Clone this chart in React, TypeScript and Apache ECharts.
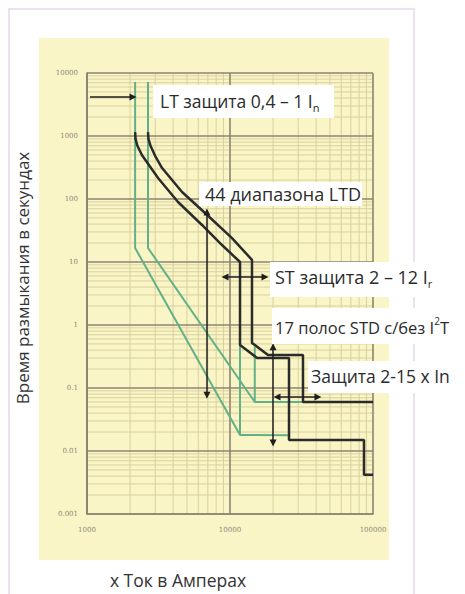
import React, { useEffect, useRef } from 'react';
import * as echarts from 'echarts';

// Axis ticks
const xTickLabels = ['1000', '10000', '100000'];
const yTickLabels = ['0.001', '0.01', '0.1', '1', '10', '100', '1000', '10000'];
const xDecades = [1000, 10000];
const yDecades = [0.001, 0.01, 0.1, 1, 10, 100, 1000];
const minorMultipliers = [2, 3, 4, 5, 6, 7, 8, 9];

// Curves [current A, time s]
const greenLeft = [[2170, 7200], [2170, 16.7], [11750, 0.0179], [25860, 0.0178]];
const greenRight = [[2670, 7200], [2670, 16.7], [14900, 0.06], [36240, 0.06]];
const greenStep1 = [[11750, 0.48], [11750, 0.0179]];
const greenStep2 = [[14900, 0.45], [14900, 0.06]];
const blackLeft = [
  [2170, 1150], [2185, 900], [2250, 700], [2420, 499], [3140, 215], [4330, 89.6], [6370, 38.7],
  [8790, 18.6], [11750, 10], [11750, 0.48], [15450, 0.3], [25860, 0.3], [25860, 0.015],
  [86500, 0.015], [86500, 0.0042], [100000, 0.0042],
];
const blackRight = [
  [2670, 1150], [2690, 900], [2780, 700], [3000, 480], [3350, 310], [4620, 129], [6690, 60], [10330, 24],
  [14250, 10.8], [14250, 0.52], [18440, 0.334], [32390, 0.334], [32390, 0.06], [100000, 0.06],
];

// Annotation arrows
const ltArrow = [[1049, 4160], [2098, 4160]];
const ltdArrow = [[6900, 62], [6900, 0.077]];
const stArrow = [[9230, 5.78], [17570, 5.78]];
const stdArrow = [[20000, 0.45], [20000, 0.0134]];
const instArrow = [[21320, 0.072], [41220, 0.072]];
const strayDot = [[100000, 0.04]];

const GREEN = '#62b088';
const BLACK = '#2b2b2b';
const FONT = 'Open Sans';

function lineSeries(data: number[][], color: string, width: number) {
  return {
    type: 'line',
    data,
    showSymbol: false,
    symbol: 'none',
    lineStyle: { color, width },
    z: 3,
    silent: true,
  };
}

function labelText(x: number, y: number, text: string, size: number) {
  const small = Math.round(size * 0.62);
  return {
    type: 'text',
    x,
    y,
    z: 101,
    style: {
      text,
      fill: '#2b2b2b',
      fontSize: size,
      fontFamily: FONT,
      lineHeight: size + 6,
      verticalAlign: 'middle',
      align: 'left',
      rich: {
        sub: { fontSize: small, lineHeight: small, verticalAlign: 'bottom', fontFamily: FONT, fill: '#2b2b2b' },
        sup: { fontSize: small, lineHeight: small, verticalAlign: 'top', fontFamily: FONT, fill: '#2b2b2b' },
        n: { fontSize: size, lineHeight: size + 6, fontFamily: FONT, fill: '#2b2b2b' },
      },
    },
  };
}

function box(x: number, y: number, w: number, h: number) {
  return { type: 'rect', z: 100, shape: { x, y, width: w, height: h }, style: { fill: '#ffffff' } };
}

export default function App() {
  const ref = useRef<HTMLDivElement>(null);
  useEffect(() => {
    if (!ref.current) return;
    const chart = echarts.init(ref.current, undefined, { renderer: 'svg' });

    const vMinor: number[][] = [];
    xDecades.forEach((d) => minorMultipliers.forEach((m) => vMinor.push([d * m, 1])));
    const hMinor: number[][] = [];
    yDecades.forEach((d) => minorMultipliers.forEach((m) => hMinor.push([10000, d * m])));

    const idx = (v: number) => Math.round(Math.log10(v));

    chart.setOption({
      animation: false,
      grid: { left: 87, top: 73, width: 286, height: 441, containLabel: false },
      xAxis: {
        type: 'log',
        logBase: 10,
        min: 1000,
        max: 100000,
        axisLine: { show: true, lineStyle: { color: '#8c8572', width: 1.6 } },
        axisTick: { show: false },
        splitLine: { show: true, lineStyle: { color: '#8c8572', width: 1.6 } },
        axisLabel: {
          margin: 12,
          fontSize: 7,
          color: '#8a877a',
          fontFamily: 'DejaVu Serif',
          formatter: (v: number) => xTickLabels[idx(v) - 3] ?? '',
        },
      },
      yAxis: {
        type: 'log',
        logBase: 10,
        min: 0.001,
        max: 10000,
        axisLine: { show: true, lineStyle: { color: '#8c8572', width: 1.6 } },
        axisTick: { show: false },
        splitLine: { show: true, lineStyle: { color: '#8c8572', width: 1.6 } },
        axisLabel: {
          margin: 9,
          fontSize: 7,
          color: '#8a877a',
          fontFamily: 'DejaVu Serif',
          formatter: (v: number) => yTickLabels[idx(v) + 3] ?? '',
        },
      },
      graphic: [
        { type: 'rect', z: -101, shape: { x: 9, y: 9, width: 405, height: 610 }, style: { fill: '#ffffff', stroke: '#ece1f0', lineWidth: 2 } },
        { type: 'rect', z: -100, shape: { x: 39, y: 38, width: 350, height: 522 }, style: { fill: '#faf5c6' } },
        box(153, 85, 181, 33),
        labelText(160, 101, 'LT защита 0,4 – 1 I{sub|n}', 17.5),
        box(199, 182, 163, 24),
        labelText(205, 194, '44 диапазона LTD', 18),
        box(270, 262, 195, 35),
        labelText(275, 277, 'ST защита 2 – 12 I{sub|r}', 18),
        box(272, 308, 193, 36),
        labelText(275, 327, '17 полос STD с/без I{sup|2}{n|T}', 16.5),
        box(308, 361, 157, 32),
        labelText(311, 376, 'Защита 2-15 x In', 17.5),
        {
          type: 'text', x: 22, y: 278, rotation: Math.PI / 2, z: 101,
          style: { text: 'Время размыкания в секундах', fill: '#333', fontSize: 17, fontFamily: FONT, align: 'center', verticalAlign: 'middle' },
        },
        {
          type: 'text', x: 178, y: 580, z: 101,
          style: { text: 'x Ток в Амперах', fill: '#333', fontSize: 17.5, fontFamily: FONT, align: 'center', verticalAlign: 'middle' },
        },
      ],
      series: [
        {
          type: 'custom',
          z: -1,
          silent: true,
          data: vMinor,
          renderItem: (_p: any, api: any) => {
            const v = api.value(0);
            const a = api.coord([v, 10000]);
            const b = api.coord([v, 0.001]);
            return { type: 'line', shape: { x1: a[0], y1: a[1], x2: b[0], y2: b[1] }, style: { stroke: '#d9d09c', lineWidth: 1 } };
          },
        },
        {
          type: 'custom',
          z: -1,
          silent: true,
          data: hMinor,
          renderItem: (_p: any, api: any) => {
            const v = api.value(1);
            const a = api.coord([1000, v]);
            const b = api.coord([100000, v]);
            return { type: 'line', shape: { x1: a[0], y1: a[1], x2: b[0], y2: b[1] }, style: { stroke: '#d9d09c', lineWidth: 1 } };
          },
        },
        lineSeries(greenLeft, GREEN, 2),
        lineSeries(greenRight, GREEN, 2),
        lineSeries(greenStep1, GREEN, 2),
        lineSeries(greenStep2, GREEN, 2),
        lineSeries(blackLeft, BLACK, 2.5),
        lineSeries(blackRight, BLACK, 2.5),
        {
          type: 'lines',
          coordinateSystem: 'cartesian2d',
          z: 4,
          silent: true,
          symbol: ['none', 'triangle'],
          symbolSize: 7,
          lineStyle: { color: '#1e1e1e', width: 1.5, opacity: 1, curveness: 0 },
          data: [{ coords: ltArrow }],
        },
        {
          type: 'lines',
          coordinateSystem: 'cartesian2d',
          z: 4,
          silent: true,
          symbol: ['triangle', 'triangle'],
          symbolSize: 7,
          lineStyle: { color: '#1e1e1e', width: 1.5, opacity: 1, curveness: 0 },
          data: [{ coords: ltdArrow }, { coords: stArrow }, { coords: stdArrow }, { coords: instArrow }],
        },
        {
          type: 'scatter',
          data: strayDot,
          symbolSize: 3,
          itemStyle: { color: '#a8a290' },
          z: 3,
          silent: true,
        },
      ],
    });
    return () => chart.dispose();
  }, []);
  return <div ref={ref} style={{ position: 'absolute', left: 0, top: 0, width: 465, height: 594 }} />;
}
